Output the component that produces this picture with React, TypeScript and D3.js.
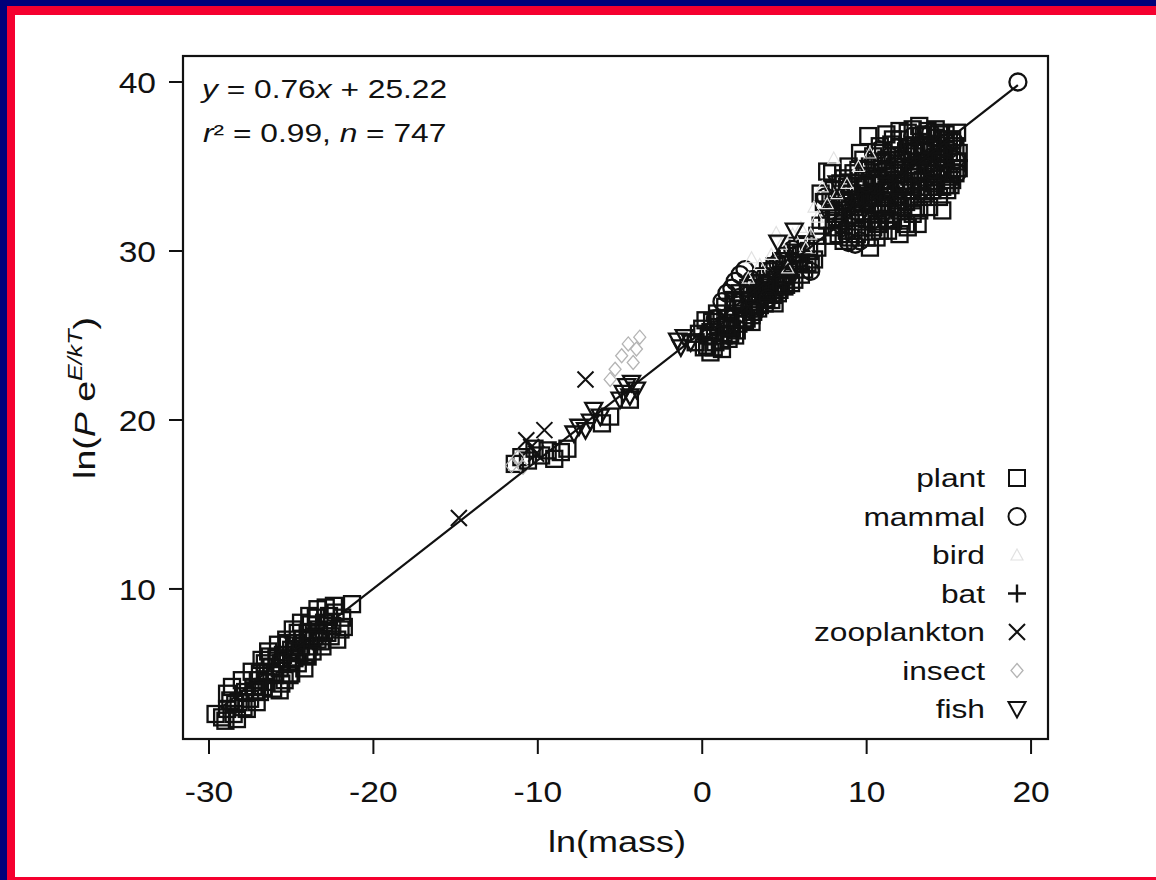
import React from 'react';
import * as d3 from 'd3';

// ---------- data ----------
const xTicks = [-30, -20, -10, 0, 10, 20];
const yTicks = [10, 20, 30, 40];
const fitSlope = 0.76;
const fitIntercept = 25.22;
const fitXRange = [-29.3, 19.2];
const xDomain = [-31.58, 21.03];
const yDomain = [1.12, 41.54];

type P = [number, number];

const plant: P[] = [
  // tiny organisms cluster
  [-29.6, 2.6], [-29.2, 2.4], [-28.9, 2.9], [-28.7, 3.4], [-28.5, 2.6], [-28.9, 3.8], [-28.2, 3.3],
  [-27.8, 3.9], [-27.5, 3.5], [-27.3, 4.2], [-27.0, 4.6], [-26.9, 3.9], [-26.6, 5.1], [-26.5, 4.5],
  [-26.2, 5.4], [-26.0, 4.9], [-25.9, 5.9], [-25.7, 5.3], [-25.5, 6.1], [-25.4, 4.6], [-25.2, 5.7],
  [-25.0, 6.4], [-24.8, 5.9], [-24.7, 6.8], [-24.5, 6.2], [-24.3, 7.0], [-24.2, 5.3], [-24.0, 7.4],
  [-23.9, 6.6], [-23.8, 7.9], [-23.6, 7.2], [-23.5, 8.3], [-23.3, 7.6], [-23.2, 6.9], [-23.0, 8.0],
  [-22.8, 7.4], [-22.7, 8.4], [-22.5, 7.8], [-22.3, 8.6], [-22.0, 7.6], [-21.9, 8.3], [-21.3, 9.1],
  [-26.3, 6.0], [-25.1, 4.9], [-24.6, 7.4], [-25.7, 4.0], [-21.8, 7.75],
  [-29.0, 2.2], [-28.6, 4.2], [-28.3, 2.3], [-28.0, 4.6], [-27.7, 2.9], [-27.4, 5.1], [-27.1, 3.3],
  [-26.8, 5.8], [-26.7, 4.2], [-26.4, 6.3], [-26.1, 4.1], [-25.8, 6.7], [-25.6, 4.4], [-25.3, 7.0],
  [-25.0, 5.0], [-24.9, 7.6], [-24.6, 5.6], [-24.4, 8.0], [-24.1, 6.1], [-23.9, 8.4], [-23.7, 6.3],
  [-23.4, 8.8], [-23.1, 6.6], [-22.9, 8.9], [-22.6, 7.2], [-22.4, 9.0], [-22.2, 7.0], [-27.9, 3.0],
  [-26.9, 5.0], [-25.2, 6.8], [-24.0, 6.0], [-23.0, 7.5],
  [-26.2, 5.0], [-25.6, 5.6], [-25.0, 5.7], [-24.4, 6.6], [-23.8, 7.1], [-23.4, 7.0], [-27.2, 4.0],
  [-26.6, 5.6], [-24.7, 6.3], [-28.4, 3.2],
  // middle
  [-11.0, 17.8], [-10.6, 17.6], [-10.2, 18.3], [-9.8, 17.9], [-9.4, 18.2], [-9.0, 17.7], [-8.6, 18.1],
  [-8.2, 18.3], [-6.1, 19.8], [-5.6, 20.2], [-4.4, 21.2], [-11.4, 17.4],
  // around ln(mass)=0..7
  [-0.4, 24.6], [0.1, 24.3], [0.4, 25.0], [0.8, 24.6], [1.0, 25.5], [1.3, 25.0], [1.5, 26.0], [1.8, 25.4],
  [2.0, 26.3], [2.2, 25.7], [2.5, 26.6], [2.7, 26.0], [2.9, 27.0], [3.1, 26.4], [3.3, 27.3], [3.5, 26.8],
  [3.7, 27.7], [3.9, 27.1], [4.1, 28.0], [4.3, 27.4], [4.5, 28.3], [4.7, 27.7], [4.9, 28.6], [5.1, 28.0],
  [5.3, 28.9], [5.6, 28.3], [5.9, 29.4], [6.2, 28.9], [6.5, 30.0], [0.6, 25.8], [1.6, 24.8], [2.4, 27.1],
  [3.0, 25.8], [3.6, 28.1], [4.4, 26.9], [5.0, 29.2], [5.8, 30.3], [6.8, 29.5], [1.2, 24.2], [0.0, 25.4],
  [0.3, 24.4],
  [0.2, 25.9], [0.5, 24.0], [0.9, 26.3], [1.1, 24.7], [1.4, 26.7], [1.7, 25.1], [1.9, 27.1], [2.1, 25.3],
  [2.3, 27.5], [2.6, 25.9], [2.8, 27.8], [3.0, 26.2], [3.2, 28.1], [3.4, 26.6], [3.6, 28.5], [3.8, 26.9],
  [4.0, 28.8], [4.2, 27.1], [4.4, 29.1], [4.6, 27.5], [4.8, 29.4], [5.0, 27.9], [5.2, 29.7], [5.4, 28.1],
  [5.7, 29.9], [6.0, 28.6], [6.3, 30.4], [6.6, 29.2], [7.0, 30.9], [-0.2, 25.1], [0.7, 24.3], [1.4, 25.6],
  [2.0, 25.0],
  [0.5, 25.2], [1.0, 26.0], [1.5, 25.5], [2.0, 27.0], [2.5, 26.0], [3.0, 27.4], [3.5, 27.5], [4.0, 27.6],
  [4.5, 27.9], [5.0, 28.5], [5.5, 29.2], [6.0, 29.8], [6.4, 29.3], [2.9, 26.6], [3.9, 28.0], [4.8, 28.0],
  // large organisms cluster
  [7.2, 31.5], [7.6, 34.7], [7.9, 30.9], [8.1, 32.2], [8.3, 31.0], [8.5, 33.0], [8.6, 31.8], [8.8, 32.6],
  [9.0, 30.8], [9.1, 33.4], [9.3, 32.1], [9.4, 34.0], [9.6, 31.4], [9.7, 32.9], [9.9, 33.8], [10.0, 31.9],
  [10.1, 36.8], [10.2, 30.2], [10.3, 34.4], [10.4, 32.7], [10.5, 33.5], [10.6, 35.2], [10.7, 31.6],
  [10.8, 34.0], [10.9, 32.4], [11.0, 35.8], [11.1, 33.2], [11.2, 34.7], [11.3, 31.2], [11.4, 33.9],
  [11.5, 36.3], [11.6, 32.6], [11.7, 35.0], [11.8, 34.2], [11.9, 33.0], [12.0, 36.6], [12.1, 31.8],
  [12.2, 35.4], [12.3, 34.0], [12.4, 32.9], [12.5, 31.4], [12.5, 37.0], [12.6, 35.8], [12.7, 33.6],
  [12.8, 34.8], [12.9, 36.2], [13.0, 32.6], [13.1, 35.3], [13.2, 34.1], [13.3, 36.8], [13.4, 33.2],
  [13.5, 35.9], [13.6, 34.6], [13.7, 37.1], [13.8, 33.8], [13.9, 36.3], [14.0, 35.0], [14.1, 34.0],
  [14.2, 36.7], [14.3, 35.5], [14.4, 33.2], [14.5, 36.0], [14.6, 34.6], [14.7, 35.4], [14.8, 36.4],
  [14.9, 33.6], [15.0, 35.8], [15.2, 34.9], [15.4, 36.2], [15.5, 35.3], [8.0, 32.6], [9.2, 31.2],
  [10.6, 30.8], [11.4, 32.2], [12.8, 32.2], [13.8, 32.6], [14.6, 32.4], [9.5, 34.8], [10.9, 35.3],
  [12.2, 33.2], [7.0, 30.2], [7.4, 32.9], [15.1, 33.9], [14.2, 37.2], [13.2, 37.4], [15.5, 37.0],
  [7.9, 34.6], [8.6, 34.3], [9.8, 35.4], [12.0, 31.0], [13.1, 31.6], [11.2, 36.9], [8.9, 35.0],
  [8.0, 31.4], [8.0, 33.6], [8.4, 32.9], [8.4, 34.0], [8.8, 31.2], [8.8, 33.8], [9.2, 32.6], [9.2, 34.6],
  [9.6, 33.4], [9.6, 35.8], [10.0, 30.8], [10.0, 34.8], [10.4, 31.4], [10.4, 35.6], [10.4, 33.9],
  [10.8, 32.8], [10.8, 36.2], [11.2, 33.6], [11.2, 35.4], [11.2, 31.9], [11.6, 34.6], [11.6, 36.6],
  [11.6, 31.8], [12.0, 32.4], [12.0, 34.8], [12.0, 37.1], [12.4, 33.6], [12.4, 35.9], [12.4, 31.6],
  [12.8, 33.0], [12.8, 35.6], [12.8, 37.2], [13.2, 32.4], [13.2, 34.6], [13.2, 36.2], [13.6, 33.4],
  [13.6, 35.2], [13.6, 36.9], [14.0, 33.6], [14.0, 36.3], [14.0, 34.4], [14.4, 34.9], [14.4, 37.0],
  [14.4, 35.8], [14.8, 33.9], [14.8, 34.8], [14.8, 36.9], [15.2, 35.6], [15.2, 36.6], [15.2, 34.2],
  [15.6, 35.8], [15.6, 34.9],
  [8.2, 32.0], [8.6, 32.4], [9.0, 33.6], [9.4, 32.8], [9.8, 32.2], [9.8, 34.2], [10.2, 33.2], [10.2, 35.0],
  [10.6, 32.2], [10.6, 34.4], [11.0, 32.8], [11.0, 34.2], [11.4, 33.2], [11.4, 34.8], [11.8, 32.6],
  [11.8, 35.6], [12.2, 32.6], [12.2, 34.6], [12.6, 33.2], [12.6, 34.4], [13.0, 33.8], [13.0, 35.8],
  [13.4, 34.2], [13.4, 36.2], [13.8, 34.8], [13.8, 36.0], [14.2, 33.8], [14.2, 35.2], [14.6, 35.8],
  [14.6, 33.8], [15.0, 34.4], [15.0, 36.6], [15.4, 34.6], [9.4, 31.0], [10.8, 31.2], [8.6, 30.6],
  [7.6, 31.8], [7.2, 33.4], [7.8, 33.0],
];

const mammal: P[] = [
  [1.5, 27.5], [1.8, 27.8], [2.0, 28.2], [2.3, 28.6], [2.6, 28.9], [1.2, 27.0], [3.0, 28.3], [3.4, 27.8],
  [2.8, 27.4], [3.8, 28.5], [4.2, 28.9], [4.6, 29.3], [5.0, 29.7], [5.5, 30.1], [6.6, 28.8], [0.8, 26.0],
  [2.2, 26.8], [3.2, 26.4], [4.0, 27.2], [5.2, 28.5],
  [8.9, 30.5], [9.3, 30.4], [9.6, 30.6], [10.0, 33.0], [10.5, 34.2], [11.0, 34.8], [11.5, 33.6],
  [12.0, 35.2], [12.5, 35.8], [13.0, 34.6], [13.5, 36.2], [14.0, 35.6], [14.5, 36.6], [15.0, 36.0],
  [15.4, 35.4], [15.3, 36.5], [11.2, 32.6], [12.2, 34.0], [13.3, 33.6], [14.3, 34.4], [10.3, 31.8],
  [9.5, 32.3], [8.4, 31.6], [7.8, 32.4], [7.5, 33.2], [11.8, 36.1], [12.8, 36.8], [13.9, 37.0],
  [14.8, 35.2], [15.5, 34.6],
  [9.0, 32.0], [10.0, 34.0], [11.0, 33.5], [12.0, 33.8], [13.0, 36.0], [14.0, 34.8], [15.0, 34.6],
  [10.8, 36.0], [12.6, 36.2], [13.6, 35.0], [8.6, 33.2], [11.4, 35.6],
  [19.2, 40.0],
];

const bird: P[] = [
  [3.5, 29.2], [4.2, 29.8], [4.8, 30.4], [5.5, 31.0], [6.0, 31.4], [6.6, 31.0], [7.0, 32.0], [7.6, 32.8],
  [8.2, 33.4], [8.8, 34.0], [5.2, 29.0], [6.3, 30.2], [2.8, 28.4], [3.0, 29.6], [4.5, 31.1], [9.5, 35.0],
  [10.2, 35.8], [8.0, 35.5], [6.8, 32.6], [7.3, 33.8],
];

const bat: P[] = [
  [10.8, 33.4], [11.6, 34.0], [12.4, 34.6], [13.2, 35.2], [14.0, 35.8], [9.8, 32.8],
];

const zooplankton: P[] = [
  [-14.8, 14.2], [-10.7, 18.8], [-10.4, 18.4], [-9.6, 19.4], [-10.1, 18.0], [-7.1, 22.4],
];

const insect: P[] = [
  [-11.6, 17.3], [-11.2, 17.8], [-10.9, 17.2], [-5.3, 23.0], [-4.9, 23.8], [-4.5, 24.5], [-4.2, 23.4],
  [-3.8, 24.9], [-5.6, 22.4], [-4.0, 24.2],
];

const fish: P[] = [
  [-7.8, 19.2], [-7.5, 19.6], [-7.1, 19.4], [-6.8, 19.9], [-6.6, 20.6], [-6.2, 20.2], [-5.0, 21.2],
  [-4.8, 21.6], [-4.6, 22.0], [-4.3, 22.2], [-4.0, 21.8], [-4.4, 21.4], [-1.5, 24.7], [-1.1, 24.9],
  [-0.7, 24.6], [-1.3, 24.3], [5.6, 31.2], [4.6, 30.5], [9.0, 33.0], [8.2, 34.0], [12.0, 33.0], [11.0, 31.8],
];

const legendNames = ['plant', 'mammal', 'bird', 'bat', 'zooplankton', 'insect', 'fish'];

// ---------- layout ----------
const W = 1156;
const H = 880;
const left = 183, right = 1048, top = 56, bottom = 739;
const FONT = "'Liberation Sans', Arial, Helvetica, sans-serif";
const INK = '#111';

const x = d3.scaleLinear().domain(xDomain).range([left, right]);
const y = d3.scaleLinear().domain(yDomain).range([bottom, top]);

function Marker({ kind, cx, cy, legend = false }: { kind: string; cx: number; cy: number; legend?: boolean }) {
  const sw = legend ? 2 : 2.3;
  switch (kind) {
    case 'plant':
      return <rect x={cx - 8} y={cy - 8} width={16} height={16} fill="none" stroke={INK} strokeWidth={sw} />;
    case 'mammal':
      return <circle cx={cx} cy={cy} r={8.5} fill="none" stroke={INK} strokeWidth={sw} />;
    case 'bird':
      return (
        <path d={`M${cx - 6},${cy + 5}L${cx + 6},${cy + 5}L${cx},${cy - 6}Z`} fill="none" stroke="#e2e2e2" strokeWidth={1.2} />
      );
    case 'bat':
      return (
        <path d={`M${cx - 9},${cy}H${cx + 9}M${cx},${cy - 9}V${cy + 9}`} stroke={INK} strokeWidth={2.4} fill="none" />
      );
    case 'zooplankton':
      return (
        <path d={`M${cx - 8},${cy - 8}L${cx + 8},${cy + 8}M${cx - 8},${cy + 8}L${cx + 8},${cy - 8}`} stroke={INK} strokeWidth={2} fill="none" />
      );
    case 'insect':
      return (
        <path d={`M${cx},${cy - 7}L${cx + 6},${cy}L${cx},${cy + 7}L${cx - 6},${cy}Z`} fill="none" stroke="#b4b4b4" strokeWidth={1.3} />
      );
    case 'fish':
      return (
        <path d={`M${cx - 8.5},${cy - 7}L${cx + 8.5},${cy - 7}L${cx},${cy + 8.5}Z`} fill="none" stroke={INK} strokeWidth={sw} strokeLinejoin="miter" />
      );
    default:
      return null;
  }
}

function Txt({ tx, ty, anchor, size, sx = 1.2, children, rotate = 0 }: any) {
  return (
    <text
      transform={`translate(${tx},${ty}) rotate(${rotate}) scale(${sx},1)`}
      textAnchor={anchor}
      fontSize={size}
      fontFamily={FONT}
      fill={INK}
    >
      {children}
    </text>
  );
}

export default function App() {
  const series: [string, P[]][] = [
    ['plant', plant],
    ['mammal', mammal],
    ['bird', bird],
    ['bat', bat],
    ['zooplankton', zooplankton],
    ['insect', insect],
    ['fish', fish],
  ];
  const line = d3
    .line<number>()
    .x((d) => x(d))
    .y((d) => y(fitSlope * d + fitIntercept));

  const legendX = 1017;
  const legendTextX = 985;
  const legendY0 = 478;
  const legendStep = 38.5;

  return (
    <svg width={W} height={H} style={{ position: 'absolute', left: 0, top: 0, display: 'block' }}>
      {/* frame */}
      <rect x={0} y={0} width={W} height={H} fill="#00007a" />
      <rect x={7} y={6} width={W} height={H} fill="#f5002f" />
      <rect x={15} y={15} width={W} height={862} fill="#ffffff" />

      {/* points */}
      <g>
        {series.map(([name, pts]) =>
          pts.map((p, i) => <Marker key={name + i} kind={name} cx={x(p[0])} cy={y(p[1])} />)
        )}
      </g>

      {/* regression line */}
      <path d={line(fitXRange) || ''} stroke={INK} strokeWidth={2.2} fill="none" />

      {/* axes box */}
      <rect x={left} y={top} width={right - left} height={bottom - top} fill="none" stroke={INK} strokeWidth={2.2} />
      {xTicks.map((t) => (
        <g key={'x' + t}>
          <line x1={x(t)} x2={x(t)} y1={bottom} y2={bottom + 15} stroke={INK} strokeWidth={2} />
          <Txt tx={x(t)} ty={802} anchor="middle" size={30} sx={1.12}>{String(t)}</Txt>
        </g>
      ))}
      {yTicks.map((t) => (
        <g key={'y' + t}>
          <line x1={left - 14} x2={left} y1={y(t)} y2={y(t)} stroke={INK} strokeWidth={2} />
          <Txt tx={156} ty={y(t) + 11} anchor="end" size={30} sx={1.12}>{String(t)}</Txt>
        </g>
      ))}

      {/* axis titles */}
      <Txt tx={617} ty={852} anchor="middle" size={30} sx={1.2}>ln(mass)</Txt>
      <Txt tx={95} ty={398} anchor="middle" size={30} sx={1.25} rotate={-90}>
        ln(<tspan fontStyle="italic">P</tspan> e
        <tspan fontSize={20} dy={-13} fontStyle="italic">E/kT</tspan>
        <tspan dy={13}>)</tspan>
      </Txt>

      {/* equation */}
      <Txt tx={202} ty={98} anchor="start" size={26} sx={1.22}>
        <tspan fontStyle="italic">y</tspan> = 0.76<tspan fontStyle="italic">x</tspan> + 25.22
      </Txt>
      <Txt tx={203} ty={142} anchor="start" size={26} sx={1.22}>
        <tspan fontStyle="italic">r</tspan>² = 0.99, <tspan fontStyle="italic">n</tspan> = 747
      </Txt>

      {/* legend */}
      {legendNames.map((n, i) => {
        const cy = legendY0 + i * legendStep;
        return (
          <g key={n}>
            <Txt tx={legendTextX} ty={cy + 9} anchor="end" size={26} sx={1.22}>{n}</Txt>
            <Marker kind={n} cx={legendX} cy={cy} legend />
          </g>
        );
      })}
    </svg>
  );
}
